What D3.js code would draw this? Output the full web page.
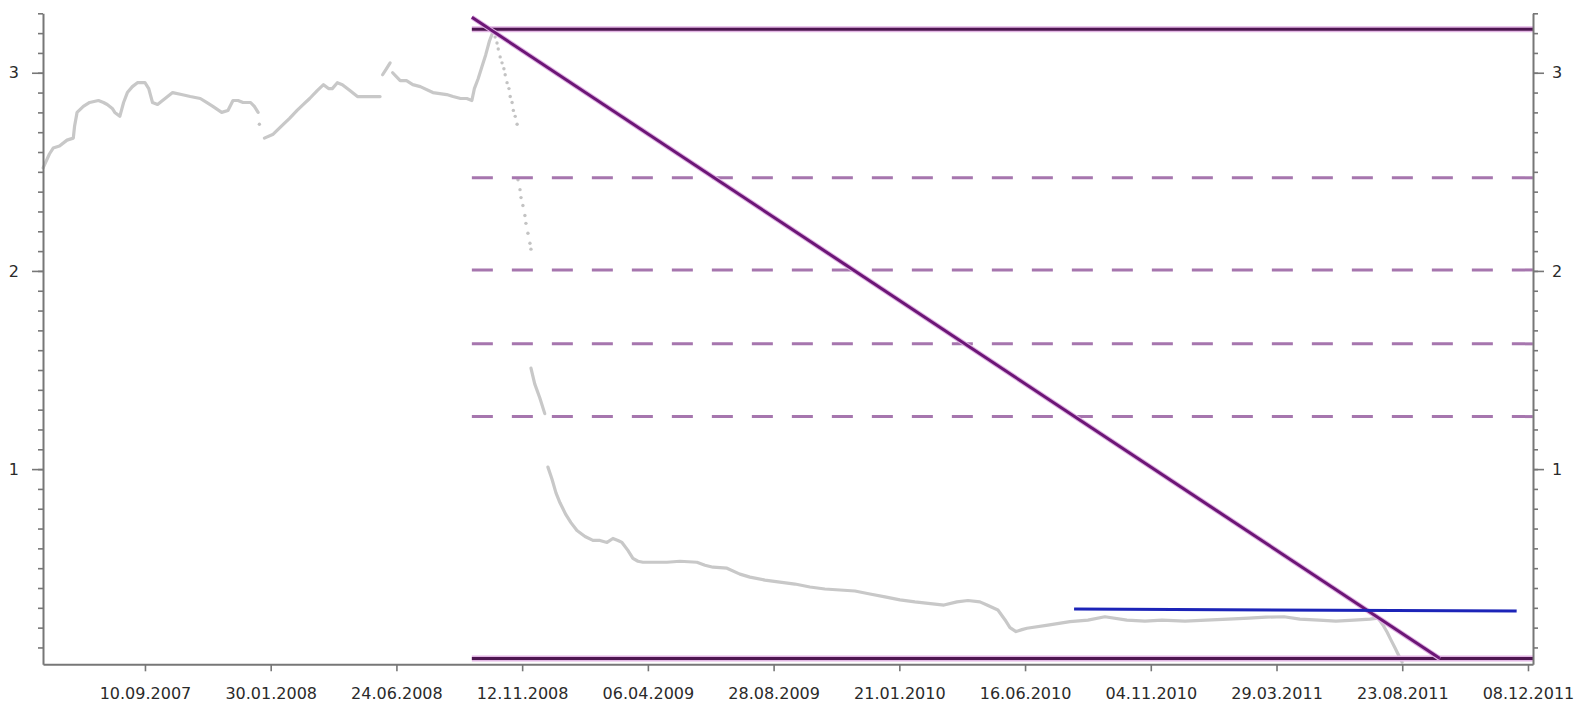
<!DOCTYPE html>
<html><head><meta charset="utf-8">
<script src="https://cdn.jsdelivr.net/npm/d3@7"></script>
<style>body{margin:0;background:#fff}svg{display:block}</style>
</head><body>
<svg id="chart" width="1581" height="705"></svg>
<script>
// ---- data ----
const tickLabels = ["10.09.2007","30.01.2008","24.06.2008","12.11.2008","06.04.2009","28.08.2009",
  "21.01.2010","16.06.2010","04.11.2010","29.03.2011","23.08.2011","08.12.2011"];
const tickIndex = [0,100,200,300,400,500,600,700,800,900,1000,1100];
const yMajorTicks = [1,2,3];

// price series (trading-day index, value), split where the chart shows gaps
const priceA = [[-81,2.52],[-76,2.59],[-73,2.62],[-68,2.63],[-62,2.66],[-57,2.67],[-56,2.73],[-54,2.80],
  [-49,2.83],[-44,2.85],[-37,2.86],[-33,2.85],[-30,2.84],[-26,2.82],[-24,2.80],[-20,2.78],[-17,2.85],
  [-14,2.90],[-10,2.93],[-6,2.95],[0,2.95],[3,2.92],[6,2.85],[10,2.84],[16,2.87],[22,2.90],[29,2.89],
  [36,2.88],[44,2.87],[49,2.85],[54,2.83],[61,2.80],[66,2.81],[70,2.86],[74,2.86],[78,2.85],[84,2.85],
  [87,2.83],[90,2.80]];
const priceB = [[95,2.67],[102,2.69],[110,2.74],[115,2.77],[121,2.81],[126,2.84],[131,2.87],[137,2.91],
  [142,2.94],[146,2.92],[149,2.92],[153,2.95],[157,2.94],[163,2.91],[169,2.88],[175,2.88],[181,2.88],[187,2.88]];
const priceC = [[189,2.99],[192,3.02],[195,3.05]];
const priceD = [[197,3.00],[203,2.96],[208,2.96],[213,2.94],[219,2.93],[229,2.90],[240,2.89],[245,2.88],
  [251,2.87],[256,2.87],[260,2.86],[262,2.92],[265,2.97],[268,3.03],[271,3.09],[274,3.16],[277,3.21]];
const priceE = [[307,1.51],[310,1.43],[314,1.36],[318,1.28]];
const priceF = [[320.5,1.01],[323.7,0.95],[326.9,0.88],[330.1,0.83],[334.8,0.77],[338.8,0.73],[343.6,0.69],
  [350,0.66],[356.3,0.64],[361.9,0.64],[367.5,0.63],[372.2,0.65],[376.2,0.64],[379.4,0.63],[384.1,0.59],
  [388.1,0.55],[392.1,0.535],[396.1,0.53],[405.6,0.53],[415.2,0.53],[425.5,0.535],[439,0.53],[445.4,0.515],
  [451.8,0.505],[462.9,0.50],[473.2,0.47],[481.2,0.455],[493.1,0.44],[505,0.43],[517,0.42],[528.9,0.405],
  [540.8,0.395],[552.8,0.39],[564.7,0.385],[576.6,0.37],[588.6,0.355],[600.5,0.34],[612.4,0.33],
  [621.2,0.324],[635.5,0.314],[645.8,0.33],[654.6,0.337],[664.1,0.33],[669.7,0.314],[678.4,0.289],
  [684,0.24],[688,0.20],[692.8,0.18],[697.5,0.19],[701.5,0.197],[718.2,0.213],[735.7,0.23],[750,0.238],
  [763.5,0.255],[781,0.238],[795.4,0.233],[808.9,0.238],[827.2,0.233],[843.9,0.238],[861.4,0.243],
  [878.1,0.248],[891.6,0.253],[905.9,0.255],[918.6,0.243],[933.8,0.238],[947.3,0.233],[961.6,0.238],
  [974.3,0.243],[980.7,0.248],[984.7,0.213],[987.9,0.178],[991.1,0.137],[994.3,0.097],[997.5,0.056],[999.9,0.026]];
const priceSegments = [priceA, priceB, priceC, priceD, priceE, priceF];
// isolated points of the steep fall after the peak
const priceDots = [[91,2.74],[278.5,3.18],[280,3.15],[281,3.12],[282.5,3.08],[284,3.05],[285.5,3.02],[286.5,2.99],
  [288,2.95],[289.5,2.92],[290.5,2.88],[292,2.85],[293,2.81],[294.5,2.78],[296,2.74],
  [296.7,2.46],[298.3,2.41],[299.1,2.37],[300.6,2.33],[302.2,2.28],[303,2.24],[304.6,2.19],[306.2,2.14],[307,2.11]];

// drawn analysis lines
const levelRange = [260, 1104];
const topLevel = 3.219;
const bottomLevel = 0.044;
const fibLevels = [2.47, 2.005, 1.632, 1.265];
const trendLine = [[260, 3.28], [1030, 0.044]];
const blueLine = [[739, 0.294], [1091, 0.284]];

// ---- chart ----
const svg = d3.select("#chart");
const x = d3.scaleLinear().domain([-81.1, 1104]).range([43, 1533]);
const y = d3.scaleLinear().domain([0.015, 3.30]).range([664.3, 13.3]);
const FONT = "'DejaVu Sans', Verdana, sans-serif";
const axisColor = "#777";
const textColor = "#2a2a2a";

const line = d3.line().x(d => x(d[0])).y(d => y(d[1]));

// price data
const gPrice = svg.append("g");
priceSegments.forEach(seg => {
  gPrice.append("path").attr("d", line(seg)).attr("fill", "none")
    .attr("stroke", "#c8c8c8").attr("stroke-width", 3.2)
    .attr("stroke-linejoin", "round").attr("stroke-linecap", "round");
});
gPrice.selectAll("circle").data(priceDots).join("circle")
  .attr("cx", d => x(d[0])).attr("cy", d => y(d[1])).attr("r", 1.7).attr("fill", "#c3c3c3");

// fib dashed levels
svg.append("g").selectAll("path").data(fibLevels).join("path")
  .attr("d", v => line([[levelRange[0], v], [levelRange[1], v]]))
  .attr("stroke", "#a676ae").attr("stroke-width", 3).attr("stroke-dasharray", "21,19").attr("fill", "none");

// top/bottom solid levels
[topLevel, bottomLevel].forEach(v => {
  const d = line([[levelRange[0], v], [levelRange[1], v]]);
  svg.append("path").attr("d", d).attr("stroke", "#e2b6e4").attr("stroke-width", 6).attr("fill", "none");
  svg.append("path").attr("d", d).attr("stroke", "#4e1651").attr("stroke-width", 3).attr("fill", "none");
});

// trend diagonal
svg.append("path").attr("d", line(trendLine)).attr("stroke", "#e0b2e4").attr("stroke-width", 5).attr("fill", "none");
svg.append("path").attr("d", line(trendLine)).attr("stroke", "#6c1676").attr("stroke-width", 3).attr("fill", "none");

// blue line
svg.append("path").attr("d", line(blueLine)).attr("stroke", "#1c24b8").attr("stroke-width", 3).attr("fill", "none");

// axes
function styleAxis(g) {
  g.selectAll("path.domain").attr("stroke", axisColor).attr("stroke-width", 2);
  g.selectAll(".tick line").attr("stroke", axisColor).attr("stroke-width", 1.6);
  g.selectAll("text").attr("fill", textColor).style("font-family", FONT).style("font-size", "16px");
}
const minorTicks = d3.range(1, 34).map(i => i / 10);

// left axis
const gL = svg.append("g").attr("transform", `translate(${x.range()[0]},0)`);
gL.call(d3.axisLeft(y).tickValues(minorTicks).tickSize(5).tickSizeOuter(0).tickFormat(""));
svg.append("g").attr("transform", `translate(${x.range()[0]},0)`)
  .call(d3.axisLeft(y).tickValues(yMajorTicks).tickSize(11).tickPadding(13).tickFormat(d3.format("d")))
  .call(g => g.select(".domain").remove()).call(styleAxis);
styleAxis(gL);

// right axis
const gR = svg.append("g").attr("transform", `translate(${x.range()[1]},0)`);
gR.call(d3.axisRight(y).tickValues(minorTicks).tickSize(5).tickSizeOuter(0).tickFormat(""));
svg.append("g").attr("transform", `translate(${x.range()[1]},0)`)
  .call(d3.axisRight(y).tickValues(yMajorTicks).tickSize(11).tickPadding(8).tickFormat(d3.format("d")))
  .call(g => g.select(".domain").remove()).call(styleAxis);
styleAxis(gR);

// bottom axis
const gB = svg.append("g").attr("transform", `translate(0,${y.range()[0]})`)
  .call(d3.axisBottom(x).tickValues(tickIndex).tickSize(7).tickSizeOuter(0).tickPadding(16)
    .tickFormat((d, i) => tickLabels[i]));
styleAxis(gB);
</script>
</body></html>
